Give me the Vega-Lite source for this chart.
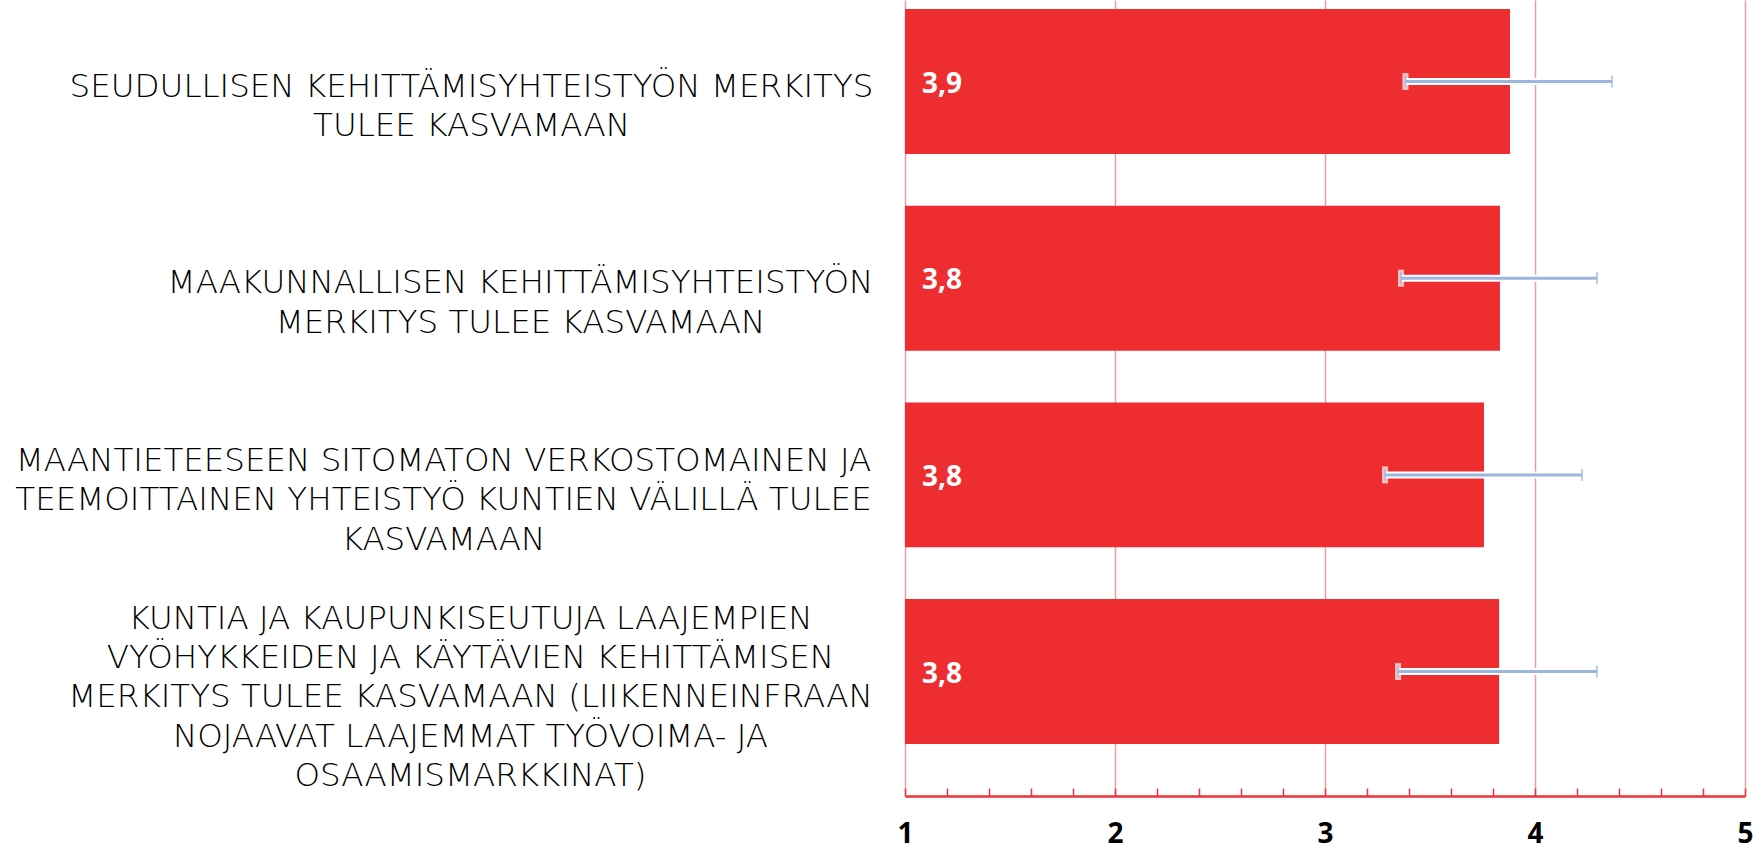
{
  "$schema": "https://vega.github.io/schema/vega-lite/v6.json",
  "autosize": "none",
  "padding": {"left": 905, "top": 0, "right": 18, "bottom": 53},
  "width": 840,
  "height": 796,
  "background": "white",
  "config": {
    "view": {"stroke": null},
    "locale": {"number": {"decimal": ",", "thousands": " ", "grouping": [3], "currency": ["", " €"]}}
  },
  "data": {
    "values": [
      {"kysymys": "SEUDULLISEN KEHITTÄMISYHTEISTYÖN MERKITYS\nTULEE KASVAMAAN", "keskiarvo": 3.881, "ala": 3.383, "yla": 4.367},
      {"kysymys": "MAAKUNNALLISEN KEHITTÄMISYHTEISTYÖN\nMERKITYS TULEE KASVAMAAN", "keskiarvo": 3.833, "ala": 3.362, "yla": 4.295},
      {"kysymys": "MAANTIETEESEEN SITOMATON VERKOSTOMAINEN JA\nTEEMOITTAINEN YHTEISTYÖ KUNTIEN VÄLILLÄ TULEE\nKASVAMAAN", "keskiarvo": 3.757, "ala": 3.286, "yla": 4.224},
      {"kysymys": "KUNTIA JA KAUPUNKISEUTUJA LAAJEMPIEN\nVYÖHYKKEIDEN JA KÄYTÄVIEN KEHITTÄMISEN\nMERKITYS TULEE KASVAMAAN (LIIKENNEINFRAAN\nNOJAAVAT LAAJEMMAT TYÖVOIMA- JA\nOSAAMISMARKKINAT)", "keskiarvo": 3.829, "ala": 3.348, "yla": 4.295}
    ]
  },
  "encoding": {
    "y": {
      "field": "kysymys",
      "type": "nominal",
      "sort": null,
      "scale": {"paddingInner": 0.263, "paddingOuter": 0.155, "align": 0.148},
      "axis": {
        "title": null,
        "domain": false,
        "ticks": false,
        "tickSize": 0,
        "grid": false,
        "labelExpr": "split(datum.label, '\\n')",
        "labelFont": "DejaVu Sans",
        "labelFontSize": 32.5,
        "labelFontWeight": 300,
        "labelColor": "#000000",
        "labelLineHeight": 39.4,
        "labelAlign": "center",
        "labelBaseline": "middle",
        "labelLimit": 2000,
        "labelOffset": {
          "condition": [
            {"test": "indexof(datum.value, 'SEUDULLISEN') === 0", "value": 5},
            {"test": "indexof(datum.value, 'MAAKUNNALLISEN') === 0", "value": 5},
            {"test": "indexof(datum.value, 'MAANTIETEESEEN') === 0", "value": -14}
          ],
          "value": -53
        },
        "labelPadding": {
          "condition": [
            {"test": "indexof(datum.value, 'SEUDULLISEN') === 0", "value": 434},
            {"test": "indexof(datum.value, 'MAAKUNNALLISEN') === 0", "value": 385},
            {"test": "indexof(datum.value, 'MAANTIETEESEEN') === 0", "value": 462}
          ],
          "value": 435
        }
      }
    }
  },
  "layer": [
    {
      "mark": {"type": "bar", "color": "#EE2D30"},
      "encoding": {
        "x": {
          "field": "keskiarvo",
          "type": "quantitative",
          "scale": {"domain": [1, 5], "zero": false, "nice": false},
          "axis": {
            "title": null,
            "values": [1, 1.2, 1.4, 1.6, 1.8, 2, 2.2, 2.4, 2.6, 2.8, 3, 3.2, 3.4, 3.6, 3.8, 4, 4.2, 4.4, 4.6, 4.8, 5],
            "labelExpr": "datum.value % 1 === 0 ? format(datum.value, 'd') : ''",
            "grid": true,
            "gridColor": "#F39C9E",
            "gridWidth": 1.5,
            "gridOpacity": {"condition": {"test": "datum.value % 1 !== 0", "value": 0}, "value": 1},
            "domainColor": "#EE3338",
            "domainWidth": 2.5,
            "tickColor": "#EE3338",
            "tickWidth": 1.5,
            "tickSize": -8,
            "labelFont": "Open Sans",
            "labelFontWeight": "bold",
            "labelFontSize": 28,
            "labelColor": "#000000",
            "labelBaseline": "alphabetic",
            "labelPadding": 54,
            "labelFlush": false,
            "labelOverlap": false
          }
        },
        "x2": {"datum": 1}
      }
    },
    {
      "mark": {"type": "text", "color": "white", "font": "Open Sans", "fontWeight": "bold", "fontSize": 28, "align": "left", "baseline": "middle", "dx": 17, "dy": 3},
      "encoding": {
        "x": {"datum": 1},
        "text": {"field": "keskiarvo", "type": "quantitative", "format": ".1f"}
      }
    },
    {
      "mark": {"type": "rule", "color": "white", "strokeWidth": 7},
      "encoding": {"x": {"field": "ala", "type": "quantitative"}, "x2": {"field": "yla"}}
    },
    {
      "mark": {"type": "tick", "color": "white", "thickness": 6, "size": 17},
      "encoding": {"x": {"field": "ala", "type": "quantitative"}}
    },
    {
      "mark": {"type": "rule", "color": "#9BB7DF", "strokeWidth": 3},
      "encoding": {"x": {"field": "ala", "type": "quantitative"}, "x2": {"field": "yla"}}
    },
    {
      "mark": {"type": "tick", "color": "#9BB7DF", "thickness": 2, "size": 12},
      "encoding": {"x": {"field": "ala", "type": "quantitative"}}
    },
    {
      "mark": {"type": "tick", "color": "#9BB7DF", "thickness": 2, "size": 12},
      "encoding": {"x": {"field": "yla", "type": "quantitative"}}
    }
  ]
}
